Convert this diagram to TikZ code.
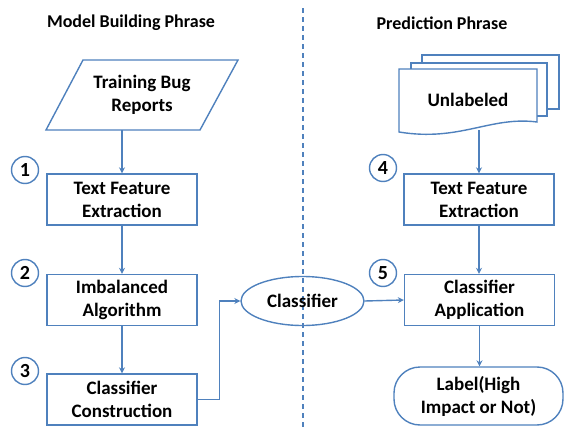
\documentclass[tikz,border=0pt]{standalone}
\usepackage{fontspec}
\setmainfont{Carlito}
\usetikzlibrary{arrows.meta,shapes.geometric}
\definecolor{ob}{HTML}{4F81BD}
\begin{document}
\begin{tikzpicture}[x=1pt,y=-1pt,
  txt/.style={font=\bfseries\fontsize{19}{23}\selectfont,align=center,text=black},
  procbox/.style={txt,draw=ob,line width=1.4pt,minimum width=150pt,minimum height=51pt,inner sep=0pt},
  numc/.style={circle,draw=ob,line width=1.4pt,minimum size=27pt,inner sep=0pt,font=\bfseries\fontsize{20}{23}\selectfont},
  arr/.style={draw=ob,line width=1.4pt,-{Stealth[length=6pt,width=6pt]}},
  ttl/.style={font=\bfseries\fontsize{18}{22}\selectfont}]
\useasboundingbox (0,0) rectangle (566,431);
% divider
\coordinate (dtop) at (303,8);
\coordinate (dbot) at (303,431);
\draw[ob,line width=1.3pt,dash pattern=on 5pt off 4pt] (dtop) -- (dbot);
% titles
\node[ttl] (t1) at (131,23) {Model Building Phrase};
\node[ttl] (t2) at (442,23) {Prediction Phrase};
% parallelogram
\fill[white] (83,60) -- (238,60) -- (200,130) -- (46,130) -- cycle;
\draw[ob,line width=1.4pt] (83,60) -- (238,60) -- (200,130) -- (46,130) -- cycle;
\node[txt,minimum height=70pt,inner sep=0pt] (tbr) at (142,95) {Training Bug\\Reports};
% left boxes
\node[procbox] (b1) at (122,199.5) {Text Feature\\Extraction};
\node[procbox] (b2) at (122,300) {Imbalanced\\Algorithm};
\node[procbox] (b3) at (122,399.5) {Classifier\\Construction};
\node[numc] (n1) at (25,170) {1};
\node[numc] (n2) at (25,273) {2};
\node[numc] (n3) at (25,371) {3};
% classifier ellipse
\node[ellipse,draw=ob,line width=1.4pt,txt,minimum width=123pt,minimum height=49pt,inner sep=0pt] (cl) at (302.5,301) {Classifier};
% document stack
\filldraw[fill=white,draw=ob,line width=1.4pt] (422,55) rectangle (559,109);
\filldraw[fill=white,draw=ob,line width=1.4pt] (411,63) rectangle (547,116);
\filldraw[fill=white,draw=ob,line width=1.4pt] (399,69) -- (537,69) -- (537,122)
   .. controls (490,116) and (460,142) .. (399,132) -- cycle;
\node[txt,minimum height=60pt,inner sep=0pt] (ul) at (468,100) {Unlabeled};
\coordinate (ulb) at (479,130);
% right boxes
\node[procbox] (b4) at (479,199.5) {Text Feature\\Extraction};
\node[procbox] (b5) at (479.5,300) {Classifier\\Application};
\node[txt,draw=ob,line width=1.4pt,rounded corners=26pt,minimum width=169pt,minimum height=58pt,inner sep=0pt] (lab) at (478.5,396) {Label(High\\Impact or Not)};
\node[numc] (n4) at (383,168) {4};
\node[numc] (n5) at (383,273) {5};
% connectors
\draw[arr] (tbr.south -| b1.north) -- (b1.north);
\draw[arr] (b1) -- (b2);
\draw[arr] (b2) -- (b3);
\draw[arr] (b3.east) -- ++(22,0) |- (cl.west);
\draw[arr] (cl.east) -- (b5.west);
\draw[arr] (ulb) -- (ulb |- b4.north);
\draw[arr] (b4.south) -- (b4.south |- b5.north);
\draw[arr] (b5.south) -- (b5.south |- lab.north);
\end{tikzpicture}
\end{document}
